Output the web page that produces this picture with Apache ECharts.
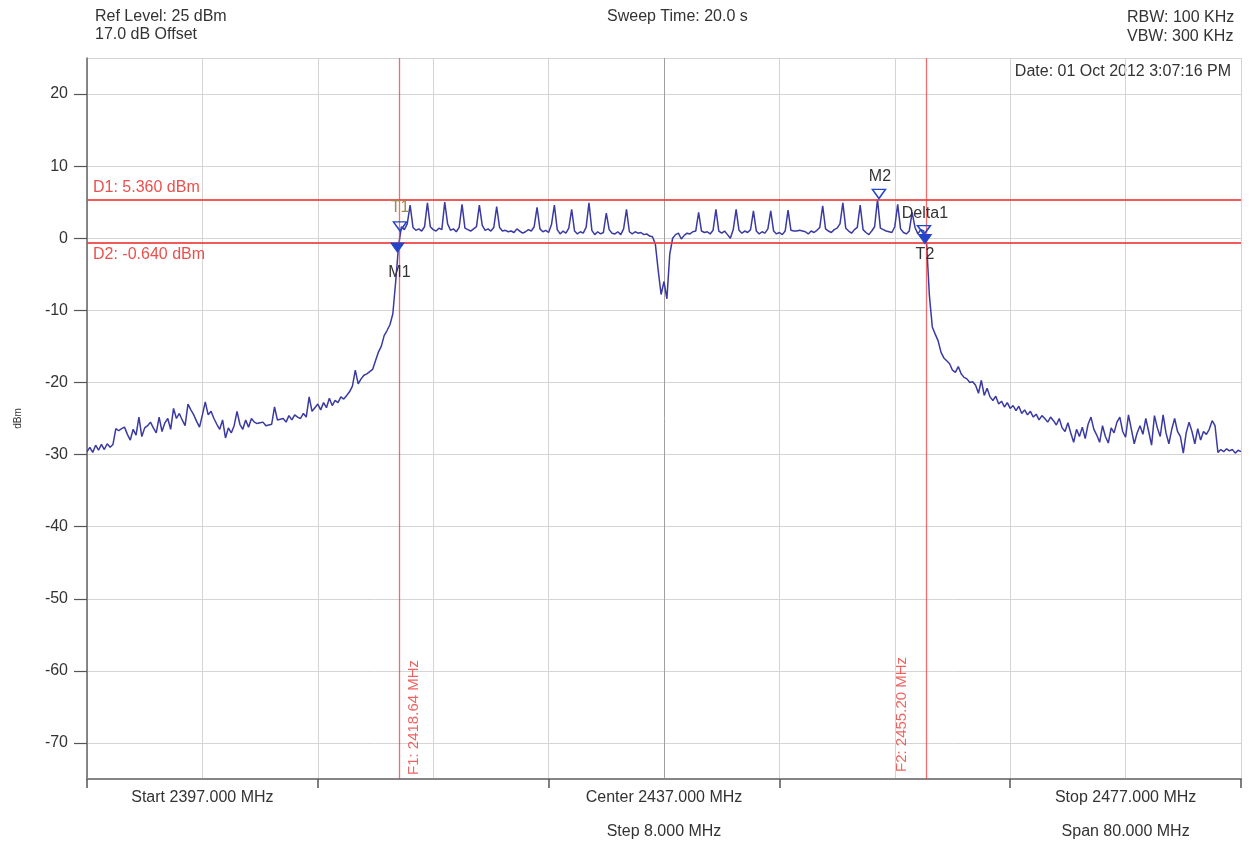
<!DOCTYPE html>
<html>
<head>
<meta charset="utf-8">
<script src="https://cdn.jsdelivr.net/npm/echarts@6/dist/echarts.min.js"></script>
<style>
html,body{margin:0;padding:0;background:#fff;}
#chart{width:1251px;height:841px;}
</style>
</head>
<body>
<div id="chart"></div>
<script>
// ---- data ----
const freqStart = 2397;
const freqStop = 2477;
const freqStep = 0.2;

// 2397.0 .. 2418.4 MHz
const lowerSkirt = [
  -29.6,-29.0,-29.7,-28.7,-29.4,-28.6,-29.3,-28.5,-29.0,-28.6,
  -26.4,-26.7,-26.4,-26.2,-27.2,-28.0,-26.5,-27.3,-24.8,-27.5,
  -26.3,-26.0,-25.5,-26.3,-27.0,-24.8,-26.8,-25.6,-25.0,-26.5,
  -23.6,-25.0,-24.3,-25.2,-26.0,-23.0,-23.8,-24.5,-25.4,-26.2,
  -24.5,-22.7,-24.5,-24.0,-25.0,-25.8,-26.5,-25.2,-27.7,-26.3,
  -27.0,-26.0,-24.0,-25.8,-26.5,-25.2,-26.2,-25.0,-25.5,-25.7,
  -25.6,-25.5,-26.0,-25.9,-25.8,-23.4,-25.2,-25.1,-25.0,-25.5,
  -24.6,-25.2,-24.5,-24.8,-25.0,-24.3,-24.8,-22.0,-24.0,-23.5,
  -23.0,-23.8,-22.8,-23.5,-22.2,-23.2,-22.5,-22.8,-22.0,-22.3,
  -21.8,-21.3,-20.5,-18.3,-20.2,-19.5,-19.0,-18.8,-18.5,-18.2,
  -17.0,-15.8,-15.0,-13.5,-12.8,-12.0,-10.5,-6.0
];
// 2418.6 .. 2455.2 MHz
const inBand = [
  -1.0,1.6,1.2,2.0,4.6,1.5,1.1,1.3,1.0,1.6,
  4.9,1.6,1.2,1.0,1.4,1.2,5.0,2.0,1.1,1.3,
  0.9,1.5,4.7,1.4,1.2,1.0,1.3,1.6,4.6,1.8,
  1.1,1.3,1.0,1.5,4.4,1.5,1.0,1.1,0.9,1.0,
  0.8,1.3,1.0,0.7,0.9,1.2,1.0,1.6,4.3,1.3,
  0.9,1.1,0.8,1.9,4.6,1.2,0.6,1.0,0.7,1.4,
  4.0,1.0,0.6,0.9,0.7,1.5,4.9,1.1,0.5,0.9,
  0.6,0.8,3.5,1.2,0.7,0.6,0.9,0.5,1.3,4.0,
  0.9,0.6,0.9,0.7,0.8,0.5,0.6,0.3,0.2,-0.8,
  -4.5,-7.8,-6.0,-8.4,-2.2,0.0,0.5,0.7,-0.1,0.4,
  0.7,0.6,0.9,1.0,3.6,1.0,0.8,0.9,0.6,1.1,
  4.0,1.0,0.7,1.0,0.5,0.0,1.2,4.0,1.1,0.7,
  1.0,0.8,1.2,3.8,1.0,0.6,0.9,0.7,1.3,3.8,
  1.0,0.6,0.8,0.5,1.0,3.9,1.1,1.0,1.0,1.1,
  1.0,0.9,0.6,1.0,0.8,1.1,1.5,4.5,1.3,1.0,
  0.8,1.2,1.4,2.0,4.9,1.4,1.0,0.7,1.2,1.5,
  4.6,1.2,0.8,0.5,1.0,1.6,5.4,1.4,1.2,1.0,
  0.9,0.8,1.6,4.7,1.3,0.8,0.6,1.0,3.6,1.5,
  0.6,1.2,1.0,-0.6
];
// 2455.4 .. 2477.0 MHz
const upperSkirt = [
  -8.0,-12.3,-13.3,-14.2,-15.8,-16.6,-17.0,-17.4,-18.3,-18.6,
  -17.8,-18.8,-19.3,-19.5,-20.0,-19.9,-20.4,-21.5,-19.7,-21.8,
  -20.8,-22.0,-22.5,-21.9,-23.0,-22.6,-23.4,-22.8,-23.6,-23.2,
  -23.9,-23.3,-24.3,-23.8,-24.5,-24.0,-24.8,-24.4,-25.2,-24.6,
  -25.0,-25.5,-24.8,-25.3,-25.9,-25.0,-26.3,-26.8,-25.6,-27.0,
  -28.3,-26.5,-27.5,-26.2,-27.8,-25.8,-24.8,-26.5,-27.3,-28.3,
  -26.0,-27.5,-28.4,-26.3,-27.0,-25.5,-24.8,-26.8,-27.6,-24.5,
  -26.5,-28.5,-27.0,-26.0,-27.2,-25.0,-26.8,-28.7,-24.6,-26.3,
  -27.5,-24.5,-27.0,-28.5,-26.5,-25.0,-26.8,-27.5,-29.8,-27.0,
  -25.5,-26.8,-28.5,-26.4,-28.0,-26.8,-27.2,-26.5,-25.3,-26.0,
  -29.7,-29.3,-29.6,-29.2,-29.5,-29.3,-29.8,-29.4,-29.6
];

// markers
const f1 = 2418.64, f2 = 2455.20;
const d1 = 5.36, d2 = -0.64;
const markerM1 = [2418.52, -1.28];
const markerT1 = [2418.70, 1.63];
const markerM2 = [2451.90, 6.14];
const markerDelta = [2455.02, 1.14];
const markerT2 = [2455.09, -0.10];

// bottom labels
const startLabel = 'Start 2397.000 MHz';
const centerLabel = 'Center 2437.000 MHz';
const stepLabel = 'Step 8.000 MHz';
const stopLabel = 'Stop 2477.000 MHz';
const spanLabel = 'Span 80.000 MHz';

// ---- build ----
const levels = lowerSkirt.concat(inBand, upperSkirt);
const trace = levels.map((v, i) => [Math.round((freqStart + freqStep * i) * 100) / 100, v]);

const FONT = '"Liberation Sans", Arial, sans-serif';
const TXT = '#333';
const RED = '#ee3d3d';
const BLUE = '#2445c8';

const gridColors = [];
for (let k = 0; k <= 10; k++) gridColors.push(k === 5 ? '#a0a0a0' : '#d4d4d4');

const chart = echarts.init(document.getElementById('chart'));
chart.setOption({
  backgroundColor: '#fff',
  animation: false,
  textStyle: { fontFamily: FONT },
  grid: { left: 87, right: 10, top: 58, bottom: 62, containLabel: false, outerBoundsMode: 'none' },
  xAxis: [
    { // data axis (frequency)
      type: 'value', min: freqStart, max: freqStop, show: false
    },
    { // divisions / labels (offset from start)
      type: 'value', min: 0, max: 80, interval: 8, position: 'bottom',
      axisLine: { show: false }, axisTick: { show: false },
      splitLine: { show: true, lineStyle: { color: gridColors, width: 1 } },
      axisLabel: {
        margin: 2, color: TXT, fontSize: 16, fontFamily: FONT, lineHeight: 34,
        formatter: function (v) {
          if (v === 8) return startLabel;
          if (v === 40) return centerLabel + '\n' + stepLabel;
          if (v === 72) return stopLabel + '\n' + spanLabel;
          return '';
        }
      }
    },
    { // axis line with major ticks
      type: 'value', min: 0, max: 80, interval: 16, position: 'bottom',
      axisLine: { show: true, lineStyle: { color: '#858585', width: 2 } },
      axisTick: { show: true, length: 9, lineStyle: { color: '#555', width: 1.5 } },
      axisLabel: { show: false }, splitLine: { show: false }
    }
  ],
  yAxis: {
    type: 'value', min: -75, max: 25, splitNumber: 10, minInterval: 10, maxInterval: 10,
    name: 'dBm', nameLocation: 'middle', nameGap: 64, nameRotate: 90,
    nameTextStyle: { fontSize: 10, color: TXT, fontFamily: FONT },
    axisLine: { show: true, lineStyle: { color: '#666', width: 1.5 } },
    axisTick: { show: true, length: 13, lineStyle: { color: '#555', width: 1.2 } },
    axisLabel: { margin: 19, color: TXT, fontSize: 16, fontFamily: FONT, showMinLabel: false, showMaxLabel: false },
    splitLine: { show: true, lineStyle: { color: '#d4d4d4', width: 1 } }
  },
  series: [{
    type: 'line',
    xAxisIndex: 0,
    data: trace,
    showSymbol: false,
    lineStyle: { color: '#3a3aa2', width: 1.5 },
    z: 3,
    markLine: {
      silent: true,
      symbol: ['none', 'none'],
      animation: false,
      data: [
        { yAxis: d1, lineStyle: { color: RED, width: 2, type: 'solid', opacity: 0.85 },
          label: { show: true, position: 'insideStartTop', distance: [6, 4], formatter: 'D1: 5.360 dBm',
                   color: '#e8302c', fontSize: 16, fontFamily: FONT } },
        { yAxis: d2, lineStyle: { color: RED, width: 2, type: 'solid', opacity: 0.85 },
          label: { show: true, position: 'insideStartBottom', distance: [6, 4], formatter: 'D2: -0.640 dBm',
                   color: '#e8302c', fontSize: 16, fontFamily: FONT } },
        { xAxis: f1, lineStyle: { color: RED, width: 1.3, type: 'solid', opacity: 0.75 },
          label: { show: true, position: 'insideStartBottom', distance: [4, 7], formatter: 'F1: 2418.64 MHz',
                   color: '#e8302c', fontSize: 15, fontFamily: FONT } },
        { xAxis: f2, lineStyle: { color: RED, width: 1.3, type: 'solid', opacity: 0.75 },
          label: { show: true, position: 'insideStartTop', distance: [7, 17], formatter: 'F2: 2455.20 MHz',
                   color: '#e8302c', fontSize: 15, fontFamily: FONT } }
      ]
    },
    markPoint: {
      silent: true,
      animation: false,
      symbol: 'triangle',
      symbolRotate: 180,
      symbolSize: [13, 9],
      data: [
        { coord: markerM1, itemStyle: { color: BLUE, borderColor: BLUE, borderWidth: 1 },
          label: { show: true, position: 'inside', offset: [2, 25], formatter: 'M1', color: TXT, fontSize: 16, fontFamily: FONT } },
        { coord: markerT1, itemStyle: { color: 'rgba(255,255,255,0)', borderColor: BLUE, borderWidth: 1.5 },
          label: { show: true, position: 'inside', offset: [0, -19], formatter: 'T1', color: '#9a8a4e', fontSize: 16, fontFamily: FONT } },
        { coord: markerM2, itemStyle: { color: 'rgba(255,255,255,0)', borderColor: BLUE, borderWidth: 1.5 },
          label: { show: true, position: 'inside', offset: [1, -17], formatter: 'M2', color: TXT, fontSize: 16, fontFamily: FONT } },
        { coord: markerDelta, itemStyle: { color: 'rgba(255,255,255,0)', borderColor: BLUE, borderWidth: 1.5 },
          label: { show: true, position: 'inside', offset: [1, -16], formatter: 'Delta1', color: TXT, fontSize: 16, fontFamily: FONT } },
        { coord: markerT2, itemStyle: { color: BLUE, borderColor: BLUE, borderWidth: 1 },
          label: { show: true, position: 'inside', offset: [0, 16], formatter: 'T2', color: TXT, fontSize: 16, fontFamily: FONT } }
      ]
    }
  }],
  graphic: [
    { type: 'text', x: 95, y: 17, silent: true,
      style: { text: 'Ref Level: 25 dBm', fill: TXT, font: '16px ' + FONT, align: 'left', verticalAlign: 'middle' } },
    { type: 'text', x: 95, y: 35, silent: true,
      style: { text: '17.0 dB Offset', fill: TXT, font: '16px ' + FONT, align: 'left', verticalAlign: 'middle' } },
    { type: 'text', x: 607, y: 17, silent: true,
      style: { text: 'Sweep Time: 20.0 s', fill: TXT, font: '16px ' + FONT, align: 'left', verticalAlign: 'middle' } },
    { type: 'text', x: 1127, y: 18, silent: true,
      style: { text: 'RBW: 100 KHz', fill: TXT, font: '16px ' + FONT, align: 'left', verticalAlign: 'middle' } },
    { type: 'text', x: 1127, y: 37, silent: true,
      style: { text: 'VBW: 300 KHz', fill: TXT, font: '16px ' + FONT, align: 'left', verticalAlign: 'middle' } },
    { type: 'text', x: 1231, y: 72, silent: true,
      style: { text: 'Date: 01 Oct 2012 3:07:16 PM', fill: TXT, font: '16px ' + FONT, align: 'right', verticalAlign: 'middle' } }
  ]
});
</script>
</body>
</html>
